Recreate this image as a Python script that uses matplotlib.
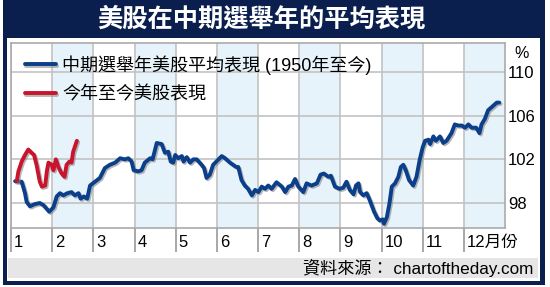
import matplotlib
matplotlib.use("Agg")
import matplotlib.pyplot as plt
import matplotlib.patheffects as pe
from matplotlib.patches import Rectangle
from matplotlib.transforms import ScaledTranslation

plt.rcParams['font.family'] = ['Liberation Sans', 'Noto Sans CJK TC', 'DejaVu Sans']

# ---- data (x = month position, 0 = start of January) ----
avg_x = [0.10, 0.26, 0.34, 0.38, 0.46, 0.58, 0.70, 0.79, 0.93, 1.03, 1.11, 1.19, 1.27, 1.37,
         1.47, 1.55, 1.64, 1.69, 1.77, 1.85, 1.92, 2.04, 2.16, 2.28, 2.40, 2.53, 2.65, 2.77,
         2.85, 2.93, 2.98, 3.09, 3.17, 3.25, 3.38, 3.44, 3.54, 3.66, 3.74, 3.82, 3.88, 3.94,
         3.99, 4.06, 4.15, 4.19, 4.27, 4.35, 4.43, 4.51, 4.63, 4.69, 4.75, 4.83, 4.91, 5.04,
         5.12, 5.20, 5.32, 5.47, 5.52, 5.60, 5.68, 5.76, 5.85, 5.93, 6.01, 6.09, 6.17, 6.25,
         6.33, 6.45, 6.58, 6.66, 6.74, 6.82, 6.90, 6.98, 7.10, 7.18, 7.30, 7.43, 7.52, 7.60,
         7.71, 7.77, 7.87, 7.98, 8.07, 8.15, 8.23, 8.32, 8.38, 8.44, 8.48, 8.56, 8.64, 8.72,
         8.82, 8.90, 8.96, 9.03, 9.06, 9.13, 9.19, 9.25, 9.33, 9.41, 9.47, 9.53, 9.59, 9.67,
         9.77, 9.85, 9.93, 10.00, 10.06, 10.14, 10.18, 10.26, 10.32, 10.42, 10.50, 10.58,
         10.70, 10.78, 10.86, 10.95, 11.03, 11.11, 11.19, 11.30, 11.38, 11.43, 11.51, 11.59,
         11.68, 11.80, 11.86]
avg_v = [100.0, 99.95, 98.9, 98.1, 97.7, 97.9, 98.0, 97.8, 97.2, 97.6, 98.6, 98.9, 98.7, 98.9,
         99.0, 98.7, 98.9, 98.4, 98.6, 98.4, 99.6, 99.95, 100.3, 101.2, 101.5, 101.7, 102.1, 102.0,
         102.1, 101.8, 101.0, 100.9, 101.0, 101.7, 102.1, 102.0, 103.5, 103.4, 102.6, 102.7, 101.8, 101.7,
         102.4, 102.1, 102.3, 101.8, 102.2, 101.7, 102.0, 102.0, 101.5, 101.2, 100.3, 100.6, 101.5, 102.0,
         102.3, 102.1, 101.7, 101.3, 101.3, 100.1, 99.6, 99.3, 98.7, 99.2, 99.0, 99.5, 99.3, 99.6,
         99.3, 99.9, 99.5, 99.0, 99.5, 99.6, 100.2, 99.5, 99.0, 99.8, 99.6, 99.8, 100.6, 100.7,
         100.4, 100.5, 99.5, 99.3, 99.4, 99.95, 99.2, 98.8, 99.6, 99.8, 99.0, 98.7, 98.9, 98.2,
         97.2, 96.6, 96.4, 96.5, 96.1, 96.7, 97.9, 99.5, 99.8, 100.4, 101.3, 101.5, 101.0, 100.1,
         99.6, 100.4, 102.0, 103.1, 103.7, 103.8, 103.4, 104.1, 103.7, 104.1, 103.5, 103.7,
         104.4, 105.2, 105.1, 105.1, 104.9, 105.2, 104.9, 104.9, 104.4, 105.2, 105.7, 106.5,
         106.8, 107.2, 107.2]

ytd_x = [0.14, 0.18, 0.26, 0.34, 0.42, 0.50, 0.56, 0.62, 0.70, 0.75, 0.83, 0.87, 0.91, 0.99,
         1.03, 1.09, 1.15, 1.23, 1.30, 1.35, 1.42, 1.47, 1.51, 1.60]
ytd_v = [100.0, 100.9, 101.8, 102.4, 102.9, 102.6, 102.4, 101.5, 99.95, 99.5, 99.6, 100.9, 101.7, 101.5,
         101.0, 102.0, 101.3, 100.7, 100.4, 101.5, 101.8, 101.7, 102.7, 103.7]

month_labels = ['1', '2', '3', '4', '5', '6', '7', '8', '9', '10', '11', '12月份']
y_ticks = [98, 102, 106, 110]

title = '美股在中期選舉年的平均表現'
avg_label = '中期選舉年美股平均表現 (1950年至今)'
ytd_label = '今年至今美股表現'
source = '資料來源： chartoftheday.com'

# ---- style ----
NAVY = '#0B1F4E'
BLUE = '#0B3F8A'
RED = '#C8152D'
GRID = '#C2C2C2'
SHADE = '#E7F3FB'
BAND = '#E6E6E6'

W, H = 550, 287
fig = plt.figure(figsize=(W / 100, H / 100), dpi=100)
fig.patch.set_facecolor('white')

def rect(x0, y0, x1, y1, color, z):
    fig.patches.append(Rectangle((x0 / W, 1 - y1 / H), (x1 - x0) / W, (y1 - y0) / H,
                                 transform=fig.transFigure, facecolor=color,
                                 edgecolor='none', zorder=z))

rect(3, 0, 545, 285, NAVY, -3)
rect(7, 38, 540, 281, 'white', -2)
rect(8, 258, 538, 278, BAND, -1)

fig.text(261 / W, 1 - 19 / H, title, color='white', fontsize=18.2, fontweight='bold',
         ha='center', va='center', family=['Noto Sans CJK TC'])
fig.text(533 / W, 1 - 268 / H, source, color='black', fontsize=12.3,
         ha='right', va='center')
fig.text(522 / W, 1 - 53 / H, '%', color='black', fontsize=11.5, ha='center', va='center')

ax = fig.add_axes([11 / W, 1 - 228 / H, (505 - 11) / W, (228 - 43) / H])
ax.set_zorder(5)
ax.set_facecolor('white')
ax.set_xlim(0, 12)
ax.set_ylim(95.71, 112.66)

for m in range(1, 12, 2):
    ax.axvspan(m, m + 1, color=SHADE, zorder=0, lw=0)

ax.set_xticks(range(12))
ax.set_xticklabels(month_labels, fontsize=12)
ax.tick_params(axis='x', length=17, width=1.2, color='#999999', direction='out', pad=-12)
off = ScaledTranslation(3 / 100, 0, fig.dpi_scale_trans)
for lab in ax.get_xticklabels():
    lab.set_horizontalalignment('left')
    lab.set_transform(lab.get_transform() + off)

ax.yaxis.tick_right()
ax.set_yticks(y_ticks)
ax.set_yticklabels([str(v) for v in y_ticks], fontsize=12)
ax.tick_params(axis='y', length=0, pad=2)
for lab in ax.get_yticklabels():
    lab.set_verticalalignment('center_baseline')

ax.grid(True, color=GRID, lw=1.2, zorder=1)
ax.set_axisbelow(True)
for s in ax.spines.values():
    s.set_color('#AAAAAA')
    s.set_linewidth(1.2)

shadow = [pe.SimpleLineShadow(offset=(1, -1), shadow_color='#888888', alpha=0.6), pe.Normal()]
ax.plot(avg_x, avg_v, color=BLUE, lw=2.8, solid_capstyle='round', solid_joinstyle='round',
        path_effects=shadow, label=avg_label, zorder=4)
ax.plot(ytd_x, ytd_v, color=RED, lw=2.8, solid_capstyle='round', solid_joinstyle='round',
        path_effects=shadow, label=ytd_label, zorder=5)

leg = ax.legend(loc='upper left', bbox_to_anchor=(25 / W, 1 - 55 / H),
                bbox_transform=fig.transFigure, frameon=False, fontsize=13,
                handlelength=1.7, handletextpad=0.35, labelspacing=0.65, borderpad=0,
                borderaxespad=0)

fig.savefig('out.png', dpi=100, facecolor='white')
